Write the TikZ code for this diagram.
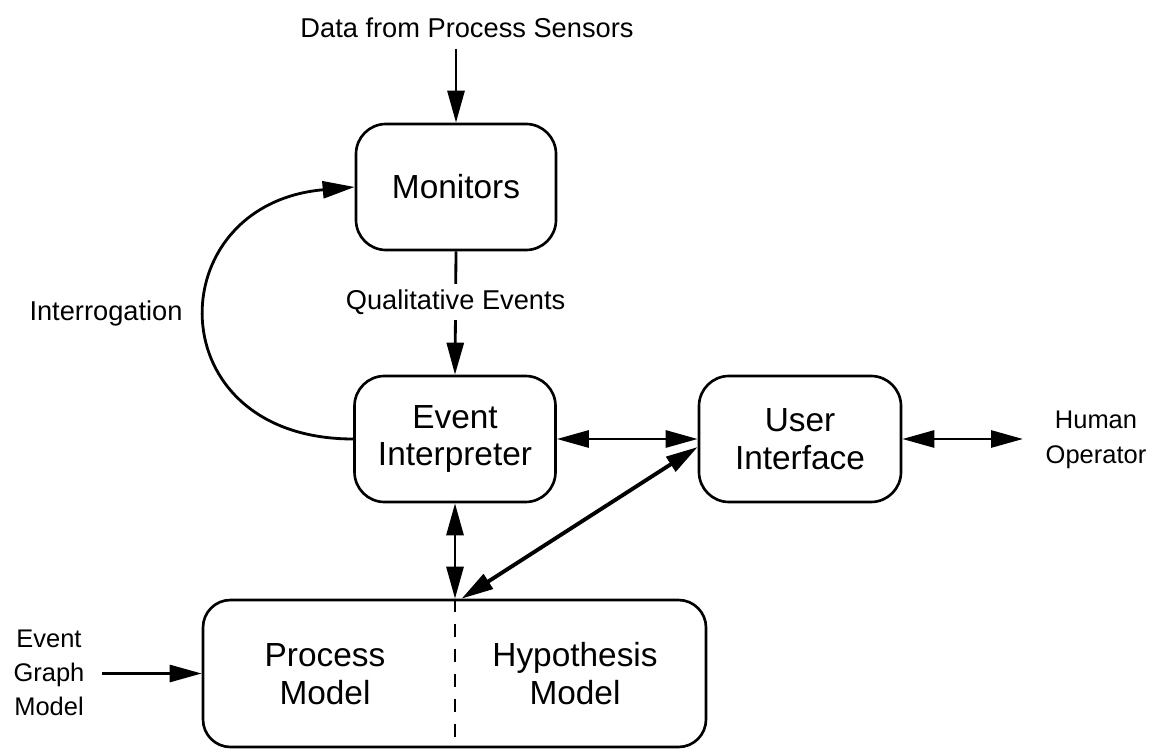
\documentclass[tikz,border=0pt]{standalone}
\usepackage{fontspec}
\setmainfont{Liberation Sans}
\usetikzlibrary{arrows.meta}
\begin{document}
\begin{tikzpicture}[
  >={Triangle[length=0.64cm,width=0.34cm]},
  box/.style={draw,line width=1.5pt,rounded corners=0.6cm,align=center,
    font=\fontsize{19}{21.6}\selectfont,inner sep=0pt},
  lbl/.style={align=center,font=\fontsize{15.5}{19}\selectfont},
  slbl/.style={align=center,font=\fontsize{14.5}{19.5}\selectfont},
  link/.style={line width=1.6pt}]
\useasboundingbox (0,0) rectangle (23.16,14.98);

\node[box,minimum width=4cm,minimum height=2.52cm] (mon) at (9.12,11.24) {Monitors};
\node[box,minimum width=4.02cm,minimum height=2.52cm] (ei) at (9.1,6.2) {Event\\Interpreter};
\node[box,minimum width=4.04cm,minimum height=2.52cm] (ui) at (16,6.2) {User\\Interface};
\node[box,minimum width=10.06cm,minimum height=2.94cm,rounded corners=0.55cm] (pm) at (9.09,1.51) {};
\node[box,draw=none] (proc) at (6.5,1.5) {Process\\Model};
\node[box,draw=none] (hyp) at (11.5,1.5) {Hypothesis\\Model};

\node[lbl] (data) at (9.34,14.42) {Data from Process Sensors};
\node[lbl] (intg) at (2.12,8.72) {Interrogation};
\node[slbl] (human) at (21.92,6.18) {Human\\Operator};
\node[slbl] (egm) at (0.98,1.52) {Event\\Graph\\Model};
\coordinate (src) at (9.12,14.0);
\coordinate (hop) at (20.46,6.2);
\coordinate (egmout) at (2.04,1.51);

\draw[->,link] (src) -- (mon.north);
\draw[->,link] (mon.south) -- node[lbl,fill=white,pos=0.41] (qe) {Qualitative Events} (ei.north);
\draw[->,link] (ei.west) to[out=180,in=185,looseness=2.0] (mon.west);
\draw[<->,link] (ei.east) -- (ui.west);
\draw[<->,link] (ui.east) -- (hop);
\draw[<->,link] (ei.south) -- (ei.south |- pm.north);
\draw[<->,line width=2.2pt] ([yshift=-0.16cm]ui.west) -- ([xshift=0.14cm]pm.north);
\draw[->,link] (egmout) -- (pm.west);
\draw[link,dash pattern=on 0.26cm off 0.24cm] (ei.south |- pm.north) -- (ei.south |- pm.south);
\end{tikzpicture}
\end{document}
